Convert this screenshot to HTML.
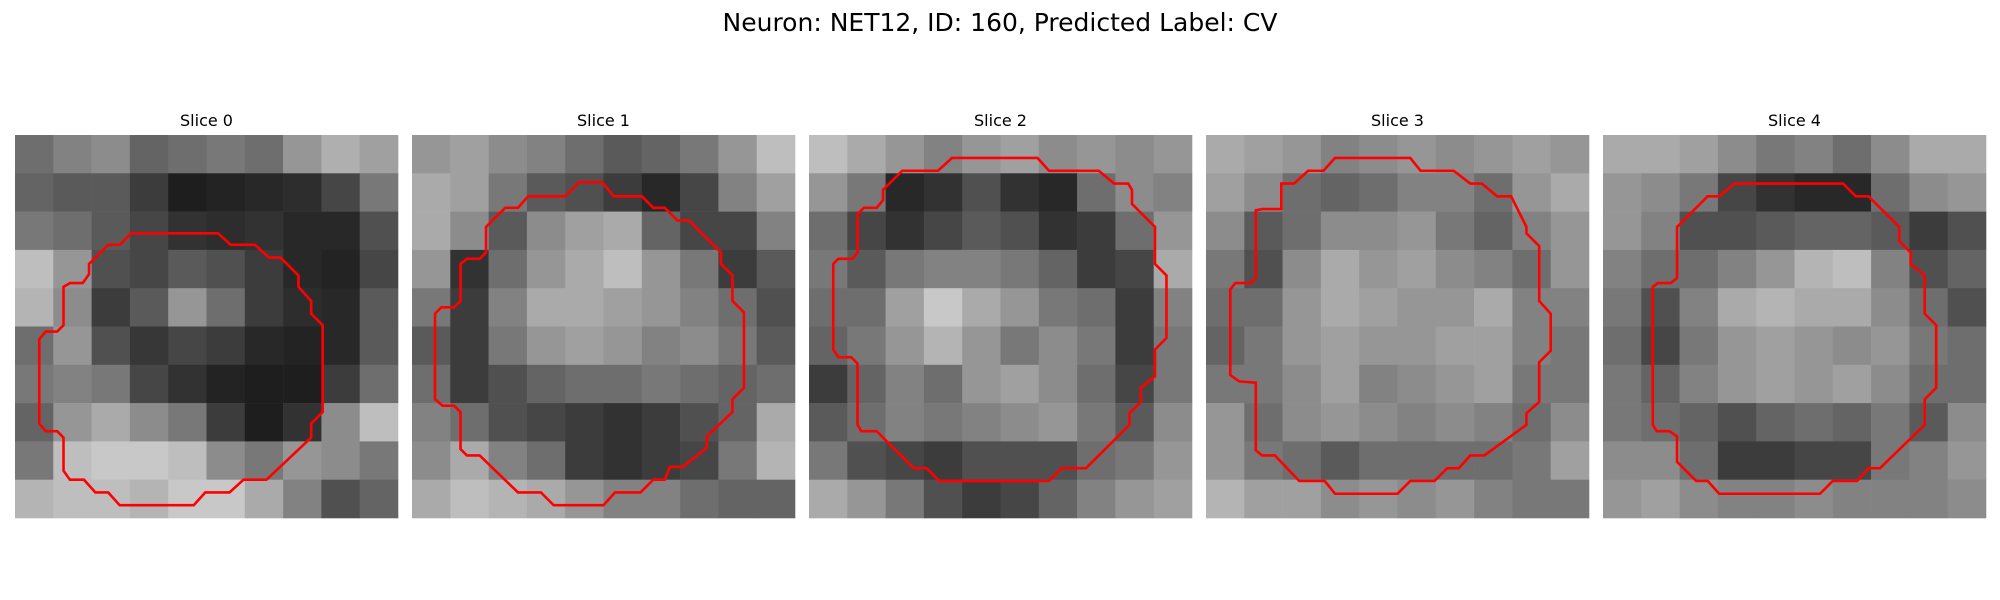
<!DOCTYPE html>
<html><head><meta charset="utf-8"><style>
body{margin:0;background:#fff;width:2000px;height:600px;overflow:hidden}
svg{display:block}
text{font-family:"DejaVu Sans","Liberation Sans",sans-serif;fill:#000}
</style></head><body>
<svg id="fig" width="2000" height="600">
<text x="1000" y="31" text-anchor="middle" font-size="25">Neuron: NET12, ID: 160, Predicted Label: CV</text>
</svg>
<script>
const sliceTitles = ["Slice 0","Slice 1","Slice 2","Slice 3","Slice 4"];
const slice0 = [
[110,130,140,100,110,120,110,150,175,160],
[100,90,90,60,30,35,40,45,70,120],
[120,110,90,70,50,45,50,40,40,80],
[190,150,80,70,90,80,60,40,35,70],
[180,140,60,90,150,110,60,45,40,90],
[110,150,80,55,70,60,40,35,40,90],
[120,130,120,70,50,35,30,30,60,110],
[100,150,170,140,120,60,30,50,140,190],
[120,190,200,200,190,140,120,150,140,120],
[180,190,190,180,200,200,170,130,80,100]];
const slice1 = [
[150,160,140,130,110,90,100,120,150,190],
[170,160,120,90,80,60,40,70,130,160],
[170,140,90,140,160,170,100,70,70,130],
[150,50,110,150,170,190,150,120,60,90],
[120,60,130,170,170,160,150,130,110,80],
[90,60,120,150,160,150,130,140,120,90],
[110,60,80,100,110,110,120,110,100,110],
[130,110,80,70,60,50,60,80,100,170],
[140,170,130,110,60,50,60,70,120,180],
[170,190,180,170,150,130,130,110,100,100]];
const slice2 = [
[190,170,150,130,150,160,140,150,140,150],
[150,120,40,50,80,50,40,110,140,130],
[110,70,50,70,90,80,50,60,110,150],
[120,90,120,130,130,120,100,60,70,170],
[110,110,160,200,170,150,120,110,60,130],
[100,120,150,180,150,120,140,120,60,120],
[60,100,130,110,150,160,140,110,70,120],
[90,110,130,120,130,140,150,120,90,140],
[120,80,70,60,80,80,80,110,120,150],
[170,150,120,80,60,70,100,130,150,160]];
const slice3 = [
[170,160,150,130,140,150,140,150,160,150],
[160,140,110,100,110,130,130,110,150,170],
[140,90,110,140,140,150,120,100,130,150],
[120,80,140,170,150,160,140,130,110,150],
[110,110,150,170,160,150,150,170,130,130],
[100,120,150,160,150,150,160,160,130,120],
[120,120,140,160,130,140,150,160,120,120],
[150,110,140,150,140,130,140,130,110,140],
[150,120,110,90,110,110,110,110,120,160],
[180,160,160,140,150,140,150,130,120,120]];
const slice4 = [
[170,170,160,140,120,130,110,140,170,170],
[150,140,120,70,50,40,40,110,140,150],
[150,130,80,80,90,100,100,90,60,80],
[130,110,110,130,150,180,190,130,80,100],
[120,80,130,170,180,170,170,140,110,80],
[110,70,120,150,160,150,140,150,120,110],
[120,100,130,150,160,150,160,140,110,110],
[120,110,100,80,100,110,100,120,90,140],
[140,140,110,60,60,70,70,120,130,150],
[150,160,140,130,130,140,130,130,130,140]];
const contour0 = [[9.1,7.7],[15.9,7.7],[16.9,8.6],[18.8,8.6],[19.9,9.6],[20.8,9.6],[22.2,11],[22.2,11.9],[23.2,13],[23.2,14],[24.1,14.9],[24.1,21.7],[23.2,22.6],[23.2,23.7],[19.7,27],[17.9,27],[16.8,28],[14.9,28],[14,29],[8.2,29],[7.3,28],[6.3,28],[5.4,27],[4.3,27],[3.8,26.3],[3.8,23.7],[3.3,23.2],[2.4,23.2],[1.9,22.6],[1.9,16],[2.4,15.4],[3.3,15.4],[3.8,14.9],[3.8,11.9],[4.3,11.6],[5.3,11.6],[5.8,10.9],[5.8,10.1],[7.3,8.6],[8.2,8.6]];
const contour1 = [[13.1,3.7],[14.9,3.7],[15.8,4.8],[18,4.8],[18.9,5.7],[19.8,5.7],[20.8,6.7],[21.7,6.7],[24.2,9.2],[24.2,10.1],[25.1,11],[25.1,13],[26,13.9],[26,19.8],[25.1,20.7],[25.1,21.7],[23.1,23.6],[23.1,24.5],[21.2,26],[20.2,26],[19.8,27],[18.9,27],[17.9,28],[15.9,28],[15,29],[11.1,29],[10.1,28],[8.3,28],[5.3,25.1],[4.3,25.1],[3.8,24.6],[3.8,21.7],[3.3,21.2],[2.4,21.2],[1.8,20.7],[1.8,14],[2.3,13.5],[3.3,13.5],[3.8,13],[3.8,10.1],[4.3,9.7],[5.3,9.7],[5.8,9.2],[5.8,7.2],[7.3,5.7],[8.3,5.7],[9.1,4.8],[12,4.8]];
const contour2 = [[11.2,1.8],[17.9,1.8],[18.8,2.8],[22.7,2.8],[23.9,3.8],[25,3.8],[25.3,4.3],[25.3,5.4],[27.1,7.2],[27.1,10.1],[28,11],[28,15.9],[27.1,16.8],[27.1,18.9],[26,19.8],[26,20.9],[25.1,21.8],[25.1,22.7],[21.7,26.1],[19.8,26.1],[18.8,27.1],[10.2,27.1],[9.2,26.1],[8.2,26.1],[5.3,23.2],[4.1,23.2],[3.8,22.7],[3.8,17.9],[3.3,17.4],[2.3,17.4],[1.9,16.8],[1.9,10.1],[2.3,9.7],[3.4,9.7],[3.8,9.2],[3.8,6.2],[4.3,5.7],[5.3,5.7],[5.8,5.1],[5.8,4.3],[7.3,2.8],[10.1,2.8]];
const contour3 = [[10.1,1.8],[16,1.8],[16.8,2.8],[19.4,2.8],[20.7,3.8],[21.6,3.8],[22.8,4.8],[23.9,4.8],[25.1,7.2],[25.1,7.7],[26.1,8.7],[26.1,13],[27,14],[27,16.9],[26.1,17.8],[26.1,20.9],[25.1,21.8],[25.1,22.7],[21.8,25.1],[20.7,25.1],[19.8,26.1],[18.9,26.1],[17.9,27.1],[16,27.1],[15,28.1],[10.1,28.1],[9.3,27.1],[7.3,27.1],[5.4,25.1],[4.4,25.1],[3.9,24.7],[3.9,19.4],[2.6,19.3],[1.9,18.8],[1.9,12.1],[2.3,11.6],[3.5,11.6],[3.9,11.2],[3.9,5.9],[4.4,5.8],[5.9,5.8],[5.9,3.8],[6.9,3.8],[8,2.8],[9.2,2.8]];
const contour4 = [[10.3,3.8],[18.8,3.8],[19.8,4.8],[20.8,4.8],[23.2,7.2],[23.2,8.3],[24.1,9.2],[24.1,10.1],[25.2,11],[25.2,14],[26.1,14.9],[26.1,19.8],[25.2,20.7],[25.2,22.7],[21.7,26.1],[20.8,26.1],[19.9,27.1],[18,27.1],[17,28.1],[9.1,28.1],[8.2,27.1],[7.3,27.1],[5.8,25.6],[5.8,23.6],[5.2,23.2],[4.2,23.2],[3.9,22.7],[3.9,11.9],[4.3,11.6],[5.3,11.6],[5.8,11.2],[5.8,7.2],[8.2,4.8],[9.1,4.8]];

const NS='http://www.w3.org/2000/svg';
const svg=document.getElementById('fig');
const slices=[slice0,slice1,slice2,slice3,slice4];
const contours=[contour0,contour1,contour2,contour3,contour4];
const P0=15, PSTEP=397, PW=383, PTOP=135, NPIX=30;
const px=PW/NPIX;
function xs(p,v){return P0+p*PSTEP+v*px;}
function ys(v){return PTOP+v*px;}
slices.forEach((grid,p)=>{
  const g=document.createElementNS(NS,'g');
  
  
  svg.appendChild(g);
  const bs=NPIX/grid.length;
  grid.forEach((row,r)=>row.forEach((v,c)=>{
    const rc=document.createElementNS(NS,'rect');
    
    
    const x0=xs(p,c*bs), y0=ys(r*bs);
    rc.setAttribute('x',x0);rc.setAttribute('y',y0);
    rc.setAttribute('width',xs(p,(c+1)*bs)-x0+0.3);
    rc.setAttribute('height',ys((r+1)*bs)-y0+0.3);
    rc.setAttribute('fill','rgb('+v+','+v+','+v+')');
    g.appendChild(rc);
  }));
  const pl=document.createElementNS(NS,'polygon');
  
  
  pl.setAttribute('points',contours[p].map(q=>xs(p,q[0])+','+ys(q[1])).join(' '));
  pl.setAttribute('fill','none');pl.setAttribute('stroke','#ff0000');pl.setAttribute('stroke-width','2.6');
  g.appendChild(pl);
  const t=document.createElementNS(NS,'text');
  
  
  t.setAttribute('x',xs(p,NPIX/2));t.setAttribute('y',126);
  t.setAttribute('text-anchor','middle');t.setAttribute('font-size','16');
  t.textContent=sliceTitles[p];
  g.appendChild(t);
});
</script>
</body></html>
